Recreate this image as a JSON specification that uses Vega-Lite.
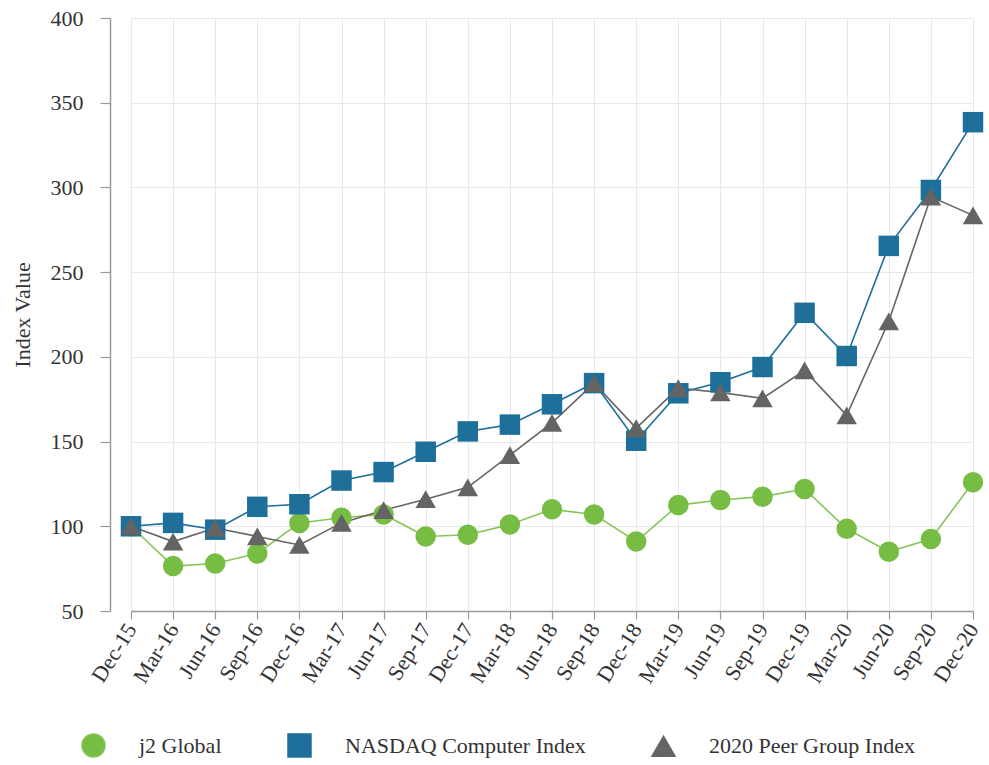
{
  "$schema": "https://vega.github.io/schema/vega-lite/v6.json",
  "width": 879,
  "height": 593,
  "autosize": {"type": "none"},
  "padding": {"left": 110, "top": 18, "right": 0, "bottom": 154},
  "background": "white",
  "config": {
    "view": {"stroke": null},
    "font": "Liberation Serif",
    "style": {"guide-label": {"font": "Liberation Serif"}, "guide-title": {"font": "Liberation Serif"}},
    "axis": {
      "labelFont": "Liberation Serif",
      "titleFont": "Liberation Serif",
      "labelColor": "#333333",
      "titleColor": "#333333",
      "domainColor": "#999999",
      "domainWidth": 1.5,
      "tickColor": "#999999",
      "tickWidth": 1.2,
      "gridColor": "#e8e8e8",
      "gridWidth": 1
    },
    "legend": {"labelFont": "Liberation Serif"}
  },
  "data": {
    "values": [
      {"date": "Dec-15", "series": "j2 Global", "value": 100},
      {"date": "Mar-16", "series": "j2 Global", "value": 76.5},
      {"date": "Jun-16", "series": "j2 Global", "value": 78},
      {"date": "Sep-16", "series": "j2 Global", "value": 84},
      {"date": "Dec-16", "series": "j2 Global", "value": 102},
      {"date": "Mar-17", "series": "j2 Global", "value": 105},
      {"date": "Jun-17", "series": "j2 Global", "value": 107},
      {"date": "Sep-17", "series": "j2 Global", "value": 94},
      {"date": "Dec-17", "series": "j2 Global", "value": 95},
      {"date": "Mar-18", "series": "j2 Global", "value": 101},
      {"date": "Jun-18", "series": "j2 Global", "value": 110},
      {"date": "Sep-18", "series": "j2 Global", "value": 107},
      {"date": "Dec-18", "series": "j2 Global", "value": 91},
      {"date": "Mar-19", "series": "j2 Global", "value": 112.5},
      {"date": "Jun-19", "series": "j2 Global", "value": 115.5},
      {"date": "Sep-19", "series": "j2 Global", "value": 117.5},
      {"date": "Dec-19", "series": "j2 Global", "value": 122},
      {"date": "Mar-20", "series": "j2 Global", "value": 98.5},
      {"date": "Jun-20", "series": "j2 Global", "value": 85},
      {"date": "Sep-20", "series": "j2 Global", "value": 92.5},
      {"date": "Dec-20", "series": "j2 Global", "value": 126},
      {"date": "Dec-15", "series": "NASDAQ Computer Index", "value": 100},
      {"date": "Mar-16", "series": "NASDAQ Computer Index", "value": 102},
      {"date": "Jun-16", "series": "NASDAQ Computer Index", "value": 98},
      {"date": "Sep-16", "series": "NASDAQ Computer Index", "value": 111.5},
      {"date": "Dec-16", "series": "NASDAQ Computer Index", "value": 113},
      {"date": "Mar-17", "series": "NASDAQ Computer Index", "value": 127},
      {"date": "Jun-17", "series": "NASDAQ Computer Index", "value": 132},
      {"date": "Sep-17", "series": "NASDAQ Computer Index", "value": 144},
      {"date": "Dec-17", "series": "NASDAQ Computer Index", "value": 156},
      {"date": "Mar-18", "series": "NASDAQ Computer Index", "value": 160},
      {"date": "Jun-18", "series": "NASDAQ Computer Index", "value": 172},
      {"date": "Sep-18", "series": "NASDAQ Computer Index", "value": 184.5},
      {"date": "Dec-18", "series": "NASDAQ Computer Index", "value": 150.5},
      {"date": "Mar-19", "series": "NASDAQ Computer Index", "value": 178.5},
      {"date": "Jun-19", "series": "NASDAQ Computer Index", "value": 185},
      {"date": "Sep-19", "series": "NASDAQ Computer Index", "value": 194},
      {"date": "Dec-19", "series": "NASDAQ Computer Index", "value": 226},
      {"date": "Mar-20", "series": "NASDAQ Computer Index", "value": 200.5},
      {"date": "Jun-20", "series": "NASDAQ Computer Index", "value": 265.5},
      {"date": "Sep-20", "series": "NASDAQ Computer Index", "value": 298.5},
      {"date": "Dec-20", "series": "NASDAQ Computer Index", "value": 338.5},
      {"date": "Dec-15", "series": "2020 Peer Group Index", "value": 100},
      {"date": "Mar-16", "series": "2020 Peer Group Index", "value": 91},
      {"date": "Jun-16", "series": "2020 Peer Group Index", "value": 99},
      {"date": "Sep-16", "series": "2020 Peer Group Index", "value": 94},
      {"date": "Dec-16", "series": "2020 Peer Group Index", "value": 89},
      {"date": "Mar-17", "series": "2020 Peer Group Index", "value": 102},
      {"date": "Jun-17", "series": "2020 Peer Group Index", "value": 109.5},
      {"date": "Sep-17", "series": "2020 Peer Group Index", "value": 116},
      {"date": "Dec-17", "series": "2020 Peer Group Index", "value": 123},
      {"date": "Mar-18", "series": "2020 Peer Group Index", "value": 142},
      {"date": "Jun-18", "series": "2020 Peer Group Index", "value": 161},
      {"date": "Sep-18", "series": "2020 Peer Group Index", "value": 184.5},
      {"date": "Dec-18", "series": "2020 Peer Group Index", "value": 158},
      {"date": "Mar-19", "series": "2020 Peer Group Index", "value": 181.5},
      {"date": "Jun-19", "series": "2020 Peer Group Index", "value": 179},
      {"date": "Sep-19", "series": "2020 Peer Group Index", "value": 175.5},
      {"date": "Dec-19", "series": "2020 Peer Group Index", "value": 192},
      {"date": "Mar-20", "series": "2020 Peer Group Index", "value": 165.5},
      {"date": "Jun-20", "series": "2020 Peer Group Index", "value": 221},
      {"date": "Sep-20", "series": "2020 Peer Group Index", "value": 294.5},
      {"date": "Dec-20", "series": "2020 Peer Group Index", "value": 283.5}
    ]
  },
  "encoding": {
    "x": {
      "field": "date",
      "type": "ordinal",
      "sort": ["Dec-15","Mar-16","Jun-16","Sep-16","Dec-16","Mar-17","Jun-17","Sep-17","Dec-17","Mar-18","Jun-18","Sep-18","Dec-18","Mar-19","Jun-19","Sep-19","Dec-19","Mar-20","Jun-20","Sep-20","Dec-20"],
      "scale": {"type": "point", "range": [21, 863], "padding": 0},
      "axis": {
        "title": null,
        "labelAngle": -58,
        "labelAlign": "right",
        "labelBaseline": "middle",
        "labelFontSize": 22,
        "labelPadding": 6,
        "tickSize": 8,
        "grid": true
      }
    },
    "y": {
      "field": "value",
      "type": "quantitative",
      "scale": {"domain": [50, 400], "nice": false, "zero": false},
      "axis": {
        "title": "Index Value",
        "titleFontSize": 22,
        "titleFontWeight": "normal",
        "titlePadding": 16,
        "values": [50, 100, 150, 200, 250, 300, 350, 400],
        "labelFontSize": 22,
        "labelPadding": 17,
        "tickSize": 10,
        "grid": true
      }
    }
  },
  "layer": [
    {
      "mark": {"type": "line", "strokeWidth": 1.6},
      "encoding": {
        "stroke": {
          "field": "series",
          "type": "nominal",
          "scale": {
            "domain": ["j2 Global", "NASDAQ Computer Index", "2020 Peer Group Index"],
            "range": ["#86c457", "#1f6f9b", "#646464"]
          }
        }
      }
    },
    {
      "mark": {"type": "point", "filled": true, "opacity": 1, "size": 420},
      "encoding": {
        "color": {
          "field": "series",
          "type": "nominal",
          "scale": {
            "domain": ["j2 Global", "NASDAQ Computer Index", "2020 Peer Group Index"],
            "range": ["#77bd43", "#1f6f9b", "#646464"]
          },
          "legend": {
            "title": null,
            "orient": "none",
            "direction": "horizontal",
            "legendX": -29,
            "legendY": 715,
            "symbolSize": 529,
            "symbolStrokeWidth": 1.5,
            "labelFont": "Liberation Serif",
            "labelFontSize": 22,
            "labelColor": "#333333",
            "labelOffset": 33,
            "columnPadding": 63,
            "labelLimit": 400
          }
        },
        "shape": {
          "field": "series",
          "type": "nominal",
          "scale": {
            "domain": ["j2 Global", "NASDAQ Computer Index", "2020 Peer Group Index"],
            "range": ["circle", "square", "triangle-up"]
          }
        }
      }
    }
  ]
}
